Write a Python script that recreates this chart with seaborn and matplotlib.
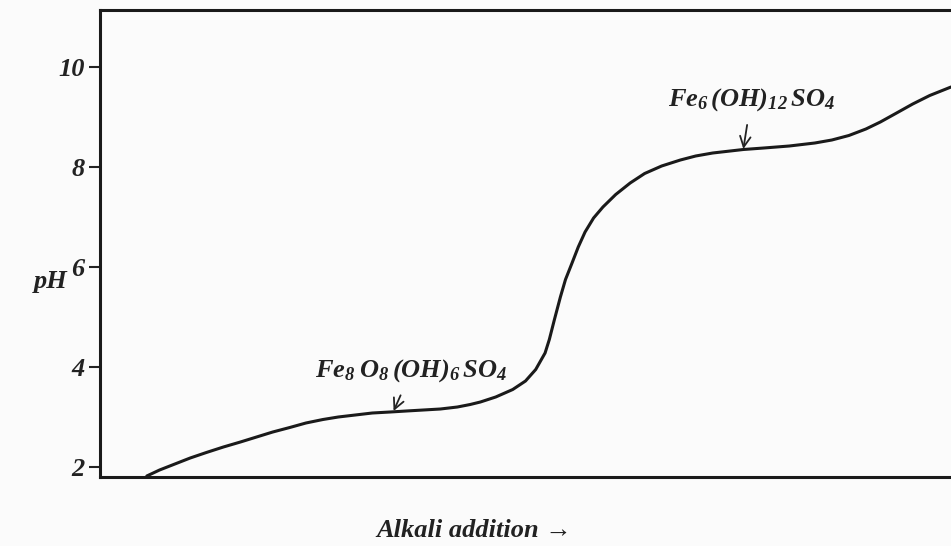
import numpy as np
import pandas as pd
import matplotlib
matplotlib.use('Agg')
import matplotlib.pyplot as plt
import seaborn as sns

# titration curve (x in arbitrary alkali units 0-100)
alkali = [5.5, 7.0, 8.5, 10.6, 12.5, 14.5, 16.5, 18.4, 20.3, 22.3, 24.2,
          26.2, 28.0, 30.0, 32.0, 34.1, 36.0, 38.0, 40.0, 42.0, 43.5, 44.7,
          46.5, 48.5, 50.0, 51.2, 52.3, 52.8, 53.4, 54.1, 54.7, 55.4, 56.2,
          57.0, 58.0, 59.1, 60.6, 62.3, 64.0, 66.0, 68.2, 70.0, 72.0, 75.6,
          78.0, 81.0, 84.0, 86.0, 88.0, 90.0, 91.7, 93.5, 95.5, 97.5, 100.0]
ph = [1.82, 1.94, 2.04, 2.18, 2.29, 2.40, 2.50, 2.60, 2.70, 2.79, 2.88,
      2.95, 3.00, 3.04, 3.08, 3.10, 3.12, 3.14, 3.16, 3.20, 3.25, 3.30,
      3.40, 3.55, 3.72, 3.95, 4.28, 4.55, 4.95, 5.40, 5.75, 6.05, 6.40,
      6.70, 6.98, 7.20, 7.45, 7.68, 7.87, 8.02, 8.14, 8.22, 8.28, 8.35,
      8.38, 8.42, 8.48, 8.54, 8.63, 8.76, 8.90, 9.07, 9.26, 9.43, 9.60]

yticks = [2, 4, 6, 8, 10]
labels = ['$Fe_8\\;O_8\\,(OH)_6\\,SO_4$', '$Fe_6\\,(OH)_{12}\\,SO_4$']
label_xy = [(36.6, 3.92), (76.5, 9.34)]
arrow_tip = [(34.5, 3.12), (75.6, 8.36)]

df = pd.DataFrame({'alkali': alkali, 'ph': ph})

sns.set_theme(style='ticks')
plt.rcParams['font.family'] = ['Liberation Serif', 'DejaVu Serif']
plt.rcParams['mathtext.fontset'] = 'custom'
plt.rcParams['mathtext.it'] = 'Liberation Serif:bold:italic'
plt.rcParams['mathtext.rm'] = 'Liberation Serif:bold:italic'
plt.rcParams['mathtext.bf'] = 'Liberation Serif:bold:italic'

bg = '#fbfbfb'
ink = '#222222'
fig = plt.figure(figsize=(9.51, 5.46), dpi=100, facecolor=bg)
ax = fig.add_axes([100 / 951, 69 / 546, 851 / 951, 467 / 546])
ax.set_facecolor(bg)

sns.lineplot(data=df, x='alkali', y='ph', ax=ax, color='#1a1a1a', lw=2.2)

ax.set_xlim(0, 100)
ax.set_ylim(1.8, 11.14)
ax.set_xticks([])
ax.set_yticks(yticks)
ax.set_yticklabels([str(t) for t in yticks], fontsize=19,
                   fontstyle='italic', fontweight='bold', color=ink)
ax.tick_params(axis='y', length=8, width=1.5, color=ink, pad=3)

for side in ['left', 'top', 'bottom']:
    ax.spines[side].set_linewidth(2.2)
    ax.spines[side].set_color('#1a1a1a')
ax.spines['right'].set_visible(False)

ax.set_xlabel('Alkali addition \u2192', fontsize=19, fontstyle='italic',
              fontweight='bold', color=ink)
ax.xaxis.set_label_coords(0.44, -0.09)
ax.set_ylabel('pH', fontsize=19, fontstyle='italic', fontweight='bold',
              color=ink, rotation=0, va='center', ha='center')
ax.yaxis.set_label_coords(-0.058, 0.418)

for lab, xy, tip in zip(labels, label_xy, arrow_tip):
    ax.annotate(lab, xy=tip, xytext=xy, ha='center', va='center',
                fontsize=19, color=ink,
                arrowprops=dict(arrowstyle='->', color=ink, lw=1.3,
                                shrinkA=6, shrinkB=0))

fig.savefig('out.png', dpi=100, facecolor=bg)
